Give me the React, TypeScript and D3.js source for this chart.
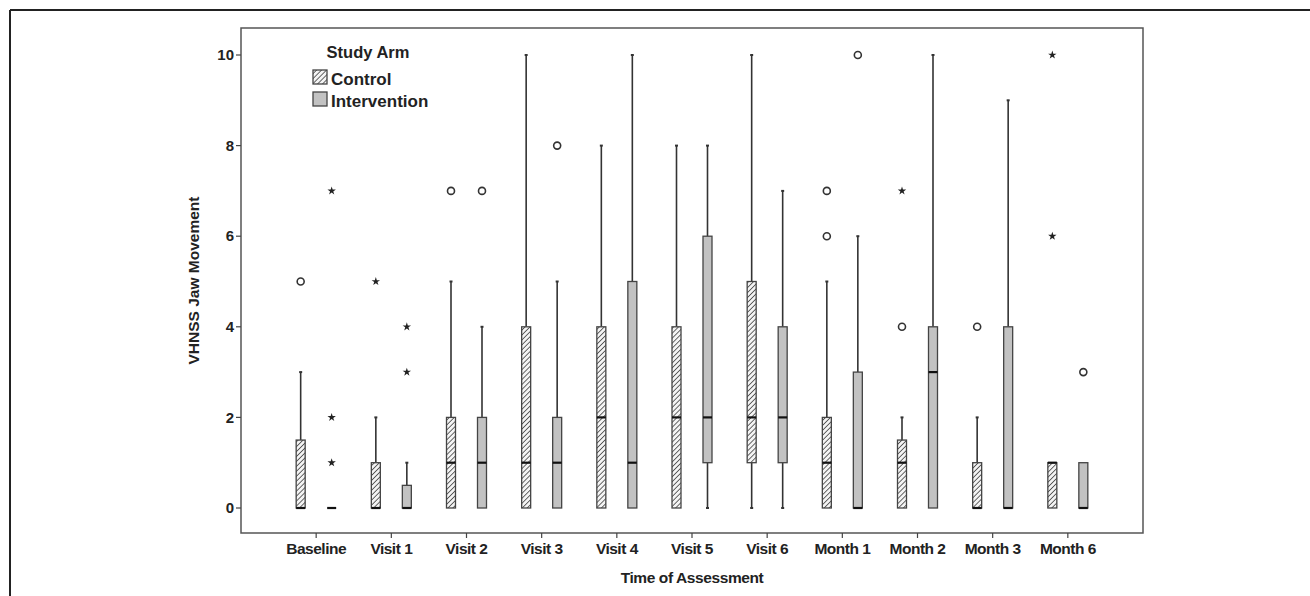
import React from 'react';
import * as d3 from 'd3';

// time points and the two study arms
const categories = ['Baseline', 'Visit 1', 'Visit 2', 'Visit 3', 'Visit 4', 'Visit 5', 'Visit 6', 'Month 1', 'Month 2', 'Month 3', 'Month 6'];
const arms = ['Control', 'Intervention'];
const yTicks = [0, 2, 4, 6, 8, 10];

// [low whisker, q1, median, q3, high whisker] per time point
const controlStats = [
  [0, 0, 0, 1.5, 3],
  [0, 0, 0, 1, 2],
  [0, 0, 1, 2, 5],
  [0, 0, 1, 4, 10],
  [0, 0, 2, 4, 8],
  [0, 0, 2, 4, 8],
  [0, 1, 2, 5, 10],
  [0, 0, 1, 2, 5],
  [0, 0, 1, 1.5, 2],
  [0, 0, 0, 1, 2],
  [0, 0, 1, 1, 1],
];
const interventionStats = [
  [0, 0, 0, 0, 0],
  [0, 0, 0, 0.5, 1],
  [0, 0, 1, 2, 4],
  [0, 0, 1, 2, 5],
  [0, 0, 1, 5, 10],
  [0, 1, 2, 6, 8],
  [0, 1, 2, 4, 7],
  [0, 0, 0, 3, 6],
  [0, 0, 3, 4, 10],
  [0, 0, 0, 4, 9],
  [0, 0, 0, 1, 1],
];

// outliers (circles) and extremes (stars)
const controlOutliers = [[5], [], [7], [], [], [], [], [7, 6], [4], [4], []];
const controlExtremes = [[], [5], [], [], [], [], [], [], [7], [], [10, 6]];
const interventionOutliers = [[], [], [7], [8], [], [], [], [10], [], [], [3]];
const interventionExtremes = [[7, 2, 1], [4, 3], [], [], [], [], [], [], [], [], []];

const W = 1310;
const H = 596;
const plot = { left: 241, right: 1143, top: 28, bottom: 533 };
const font = "'Liberation Sans', Arial, sans-serif";

export default function App() {
  const x = d3.scalePoint().domain(categories).range([plot.left, plot.right]).padding(1);
  const y = d3.scaleLinear().domain([0, 10]).range([508, 55]);
  const offset = d3.scalePoint().domain(arms).range([-15.5, 15.5]);
  const boxW = 9;
  const star = d3.symbol().type(d3.symbolStar).size(22)();

  const series = [
    { arm: 'Control', stats: controlStats, outliers: controlOutliers, extremes: controlExtremes, fill: 'url(#hatch)' },
    { arm: 'Intervention', stats: interventionStats, outliers: interventionOutliers, extremes: interventionExtremes, fill: '#c2c2c2' },
  ];

  return (
    <div style={{ position: 'absolute', left: 0, top: 0 }}>
      <svg width={W} height={H} style={{ display: 'block', background: '#fff' }}>
        <defs>
          <pattern id="hatch" patternUnits="userSpaceOnUse" width="3.5" height="3.5" patternTransform="rotate(45)">
            <rect width="3.5" height="3.5" fill="#f4f4f4" />
            <line x1="0" y1="0" x2="0" y2="3.5" stroke="#444" strokeWidth="1.6" />
          </pattern>
        </defs>

        {/* outer figure frame */}
        <line x1={10} y1={10} x2={W} y2={10} stroke="#222" strokeWidth={2} />
        <line x1={10} y1={10} x2={10} y2={H} stroke="#222" strokeWidth={2} />

        {/* plot frame */}
        <rect x={plot.left} y={plot.top} width={plot.right - plot.left} height={plot.bottom - plot.top}
          fill="none" stroke="#555" strokeWidth={1.5} />

        {/* y axis */}
        {yTicks.map(t => (
          <g key={t}>
            <line x1={plot.left - 5} x2={plot.left} y1={y(t)} y2={y(t)} stroke="#444" strokeWidth={1.2} />
            <text x={plot.left - 7} y={y(t)} dy="0.35em" textAnchor="end" fontFamily={font} fontWeight="bold" fontSize={15} fill="#222">{t}</text>
          </g>
        ))}
        <text transform={`translate(199,${(plot.top + plot.bottom) / 2}) rotate(-90)`} textAnchor="middle"
          fontFamily={font} fontWeight="bold" fontSize={15.5} fill="#222">VHNSS Jaw Movement</text>

        {/* x axis */}
        {categories.map(c => (
          <g key={c}>
            <line x1={x(c)} x2={x(c)} y1={plot.bottom} y2={plot.bottom + 5} stroke="#444" strokeWidth={1.2} />
            <text x={x(c)} y={554} textAnchor="middle" fontFamily={font} fontWeight="bold" fontSize={15.5}
              letterSpacing={-0.5} fill="#222">{c}</text>
          </g>
        ))}
        <text x={(plot.left + plot.right) / 2} y={583} textAnchor="middle" fontFamily={font} fontWeight="bold"
          fontSize={15.5} letterSpacing={-0.4} fill="#222">Time of Assessment</text>

        {/* boxes */}
        {series.map(s => categories.map((c, i) => {
          const cx = (x(c) as number) + (offset(s.arm) as number);
          const [lo, q1, med, q3, hi] = s.stats[i];
          return (
            <g key={s.arm + c}>
              {hi > q3 && <line x1={cx} x2={cx} y1={y(q3)} y2={y(hi)} stroke="#333" strokeWidth={1.6} />}
              {hi > q3 && <line x1={cx - 1.5} x2={cx + 1.5} y1={y(hi)} y2={y(hi)} stroke="#333" strokeWidth={2} />}
              {lo < q1 && <line x1={cx} x2={cx} y1={y(q1)} y2={y(lo)} stroke="#333" strokeWidth={1.6} />}
              {lo < q1 && <line x1={cx - 1.5} x2={cx + 1.5} y1={y(lo)} y2={y(lo)} stroke="#333" strokeWidth={2} />}
              <rect x={cx - boxW / 2} y={y(q3)} width={boxW} height={Math.max(0, y(q1) - y(q3))}
                fill={s.fill} stroke="#444" strokeWidth={1.3} />
              <line x1={cx - boxW / 2} x2={cx + boxW / 2} y1={y(med)} y2={y(med)} stroke="#111" strokeWidth={2.2} />
              {s.outliers[i].map(v => (
                <circle key={'o' + v} cx={cx} cy={y(v)} r={3.5} fill="#fff" stroke="#333" strokeWidth={1.6} />
              ))}
              {s.extremes[i].map(v => (
                <path key={'e' + v} d={star} transform={`translate(${cx},${y(v)})`} fill="#222" />
              ))}
            </g>
          );
        }))}

        {/* legend */}
        <text x={368} y={58} textAnchor="middle" fontFamily={font} fontWeight="bold" fontSize={16.5} fill="#222">Study Arm</text>
        <rect x={313} y={70} width={14} height={14} fill="url(#hatch)" stroke="#444" strokeWidth={1.3} />
        <text x={331} y={85} fontFamily={font} fontWeight="bold" fontSize={17} fill="#222">Control</text>
        <rect x={313} y={92} width={14} height={14} fill="#c2c2c2" stroke="#444" strokeWidth={1.3} />
        <text x={331} y={107} fontFamily={font} fontWeight="bold" fontSize={17} fill="#222">Intervention</text>
      </svg>
    </div>
  );
}
